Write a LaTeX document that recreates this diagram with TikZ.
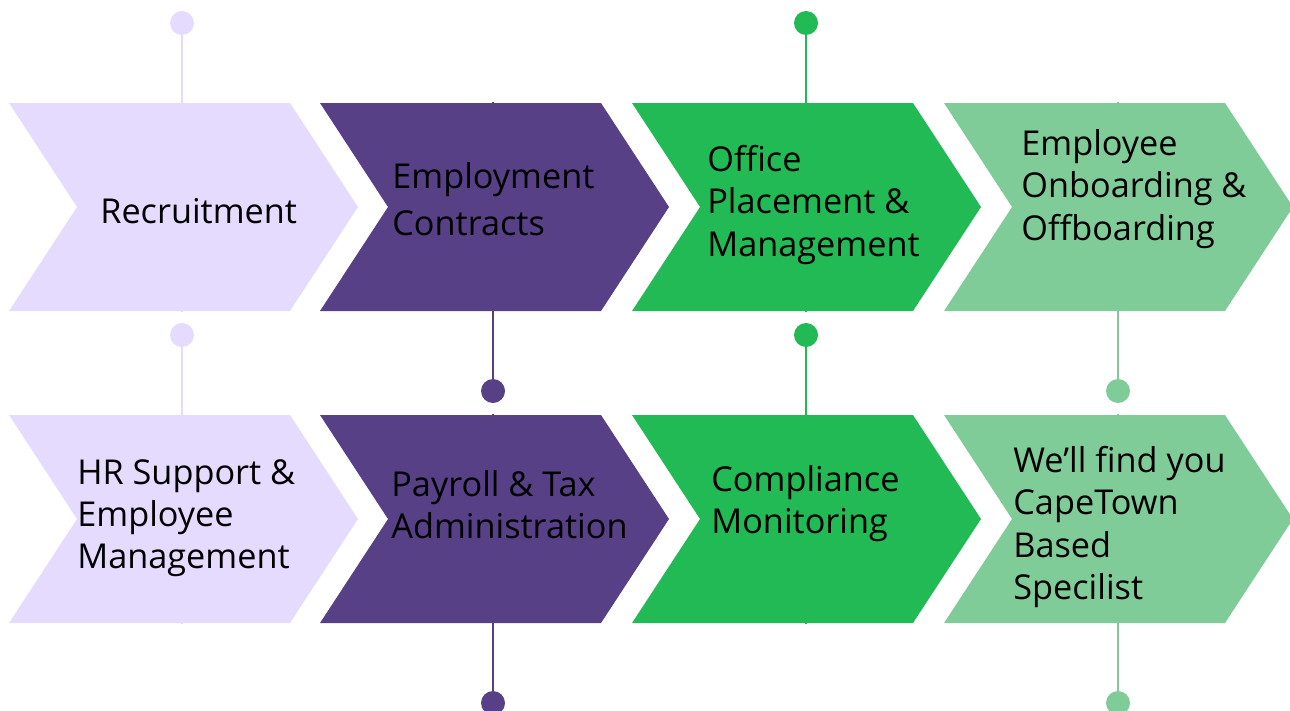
\documentclass[tikz,border=0pt]{standalone}
\usepackage{fontspec}
\setmainfont{Open Sans}
\usepackage{tikz}
\definecolor{lavender}{HTML}{E5DBFF}
\definecolor{plum}{HTML}{574086}
\definecolor{leaf}{HTML}{21BA54}
\definecolor{mint}{HTML}{80CC99}

\begin{document}
\begin{tikzpicture}[x=0.02cm, y=-0.02cm,
    dot/.style={circle, inner sep=0pt, minimum size=0.48cm},
    stem/.style={line width=0.6pt},
    chevtext/.style={anchor=west, align=left, inner sep=0pt,
        font=\fontsize{19.5}{24}\selectfont}]
    \clip (0,0) rectangle (1290,710);
    % stems, they run behind the chevrons
    \node[dot, fill=lavender] (d1) at (182,23) {};
    \coordinate (e1) at (182,312);
    \draw[stem, lavender] (d1) -- (e1);
    \node[dot, fill=plum] (d2) at (493,391) {};
    \coordinate (e2) at (493,102);
    \draw[stem, plum] (e2) -- (d2);
    \node[dot, fill=leaf] (d3) at (806,23) {};
    \coordinate (e3) at (806,312);
    \draw[stem, leaf] (d3) -- (e3);
    \node[dot, fill=mint] (d4) at (1118,391) {};
    \coordinate (e4) at (1118,102);
    \draw[stem, mint] (e4) -- (d4);
    \node[dot, fill=lavender] (d5) at (182,335) {};
    \coordinate (e5) at (182,624);
    \draw[stem, lavender] (d5) -- (e5);
    \node[dot, fill=plum] (d6) at (493,703) {};
    \coordinate (e6) at (493,414);
    \draw[stem, plum] (e6) -- (d6);
    \node[dot, fill=leaf] (d7) at (806,335) {};
    \coordinate (e7) at (806,624);
    \draw[stem, leaf] (d7) -- (e7);
    \node[dot, fill=mint] (d8) at (1118,703) {};
    \coordinate (e8) at (1118,414);
    \draw[stem, mint] (e8) -- (d8);
    % chevrons
    \foreach \cx/\cy/\cc in {9/103/lavender, 320/103/plum, 632/103/leaf, 944/103/mint,
                             9/415/lavender, 320/415/plum, 632/415/leaf, 944/415/mint}
        \fill[\cc] (\cx,\cy) -- ++(281,0) -- ++(68,104) -- ++(-68,104)
            -- ++(-281,0) -- ++(68,-104) -- cycle;
    % texts
    \node[chevtext] (t1) at (100,211) {Recruitment};
    \node[chevtext, font=\fontsize{19.5}{27}\selectfont] (t2) at (392,199) {Employment\\Contracts};
    \node[chevtext] (t3) at (707,205) {Office\\Placement \&\\Management};
    \node[chevtext] (t4) at (1021,189) {Employee\\Onboarding \&\\Offboarding};
    \node[chevtext] (t5) at (77,518) {HR Support \&\\Employee\\Management};
    \node[chevtext] (t6) at (391,505) {Payroll \& Tax\\Administration};
    \node[chevtext] (t7) at (711,504) {Compliance\\Monitoring};
    \node[chevtext] (t8) at (1013,527) {We’ll find you\\CapeTown\\Based\\Specilist};
\end{tikzpicture}
\end{document}
